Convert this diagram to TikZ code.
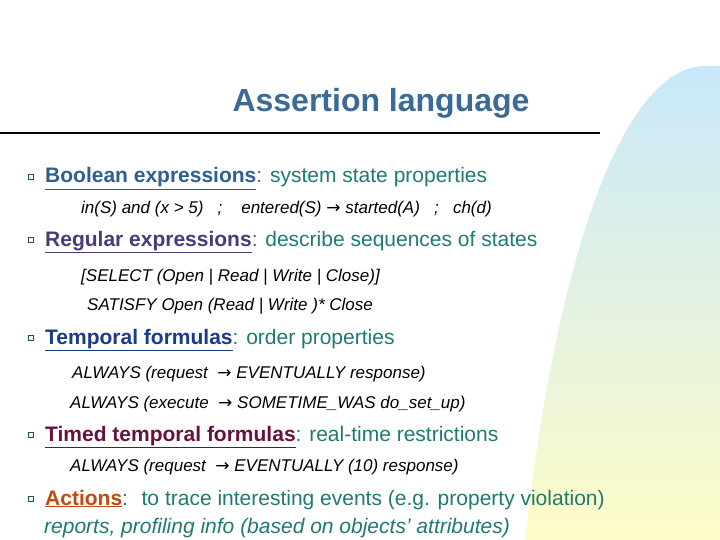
\documentclass[tikz,border=0pt]{standalone}
\usepackage{fontspec}
\setmainfont{Liberation Sans}
\newfontfamily\djvfont{DejaVu Sans}
\definecolor{teal1}{HTML}{1F7A70}
\definecolor{cbool}{HTML}{2F5F8F}
\definecolor{creg}{HTML}{4B3A7A}
\definecolor{ctemp}{HTML}{1A3A8A}
\definecolor{ctimed}{HTML}{6A1040}
\definecolor{cact}{HTML}{C04A10}
\definecolor{ctitle}{HTML}{3A6A96}
\newcommand{\myarr}{{\djvfont\char"2192}}
\newcommand{\hd}[2]{\textcolor{#1}{\underline{\textbf{#2}}}}
\begin{document}
\begin{tikzpicture}[x=1pt,y=1pt,
  head/.style={anchor=base west,inner sep=0pt,font=\fontsize{21}{24}\selectfont,text=teal1},
  form/.style={anchor=base west,inner sep=0pt,font=\fontsize{17}{20}\selectfont\itshape},
  bul/.style={draw=teal1!70!black,line width=0.6pt,minimum size=5pt,inner sep=0pt}]
\useasboundingbox (0,0) rectangle (720,-540);
\shade[top color={rgb,255:red,200;green,232;blue,250},bottom color={rgb,255:red,254;green,252;blue,200}]
  (525,-540) .. controls (560,-230) and (630,-66) .. (705,-66) -- (720,-66) -- (720,-540) -- cycle;
\node[anchor=base,inner sep=0pt,font=\fontsize{32}{36}\selectfont\bfseries,text=ctitle] (title) at (381,-112) {Assertion language};
\coordinate (l1) at (0,-133); \coordinate (l2) at (600,-133);
\draw[line width=1.3pt] (l1) -- (l2);
\node[bul] (b1) at (31,-177) {};
\node[head] (h1) at (45,-183) {\hd{cbool}{Boolean expressions}: system state properties};
\node[form] (f1) at (81,-214) {in(S) and (x > 5) \ \ ; \ \ \ entered(S) \myarr\ started(A) \ \ ; \ \ ch(d)};
\node[bul] (b2) at (31,-240) {};
\node[head] (h2) at (45,-246) {\hd{creg}{Regular expressions}: describe sequences of states};
\node[form] (f2) at (81,-281) {[SELECT (Open | Read | Write | Close)]};
\node[form] (f3) at (87,-310) {SATISFY Open (Read | Write )* Close};
\node[bul] (b3) at (31,-338) {};
\node[head] (h3) at (45,-344) {\hd{ctemp}{Temporal formulas}: order properties};
\node[form] (f4) at (72,-378) {ALWAYS (request \ \myarr\ EVENTUALLY response)};
\node[form] (f5) at (70,-408) {ALWAYS (execute \ \myarr\ SOMETIME\_WAS do\_set\_up)};
\node[bul] (b4) at (31,-435) {};
\node[head] (h4) at (45,-441) {\hd{ctimed}{Timed temporal formulas}: real-time restrictions};
\node[form] (f6) at (70,-471) {ALWAYS (request \ \myarr\ EVENTUALLY (10) response)};
\node[bul] (b5) at (31,-499) {};
\node[head] (h5) at (45,-505) {\hd{cact}{Actions}: \ to trace interesting events (e.g. property violation)};
\node[head,font=\fontsize{21}{24}\selectfont\itshape] (h6) at (44,-533) {reports, profiling info (based on objects’ attributes)};
\end{tikzpicture}
\end{document}
